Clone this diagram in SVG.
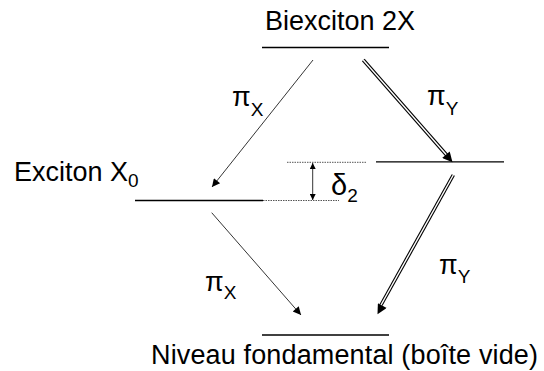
<svg xmlns="http://www.w3.org/2000/svg" width="544" height="371" viewBox="0 0 544 371">
<style>
text{font-family:"Liberation Sans",Arial,sans-serif;fill:#000}
.lbl{font-size:27px}
.sub{font-size:19px}
.lvl{stroke:#000;stroke-width:1.3;fill:none}
.dot{stroke:#555;stroke-width:1;stroke-dasharray:1.5 1;fill:none}
.thin{stroke:#000;stroke-width:0.8;fill:none}
.dblo{stroke:#000;stroke-width:3.6;fill:none}
.dbli{stroke:#fff;stroke-width:1.4;fill:none}
</style>
<defs>
<marker id="ah" viewBox="0 0 10 10" refX="10" refY="5" markerWidth="10" markerHeight="8" markerUnits="userSpaceOnUse" orient="auto">
<path d="M0,0 L10,5 L0,10 Z" fill="#000"/>
</marker>
<marker id="ahd" viewBox="0 0 10 10" refX="10" refY="5" markerWidth="12" markerHeight="10" markerUnits="userSpaceOnUse" orient="auto">
<path d="M0,0 L10,5 L0,10 Z" fill="#000"/>
</marker>
<marker id="sa" viewBox="0 0 10 10" refX="10" refY="5" markerWidth="7" markerHeight="6" markerUnits="userSpaceOnUse" orient="auto-start-reverse">
<path d="M0,0 L10,5 L0,10 Z" fill="#000"/>
</marker>
</defs>

<g id="biexciton">
<line class="lvl" x1="262" y1="47.5" x2="389" y2="47.5"/>
<text class="lbl" x="265" y="30">Biexciton 2X</text>
</g>

<g id="exciton-x">
<line class="lvl" x1="135" y1="200.5" x2="263" y2="200.5"/>
<text class="lbl" x="14" y="181">Exciton X<tspan class="sub" dy="6">0</tspan></text>
</g>

<g id="exciton-y">
<line class="lvl" x1="376" y1="161.8" x2="504" y2="161.8"/>
</g>

<g id="ground">
<line class="lvl" x1="262" y1="335" x2="389" y2="335"/>
<text class="lbl" x="151" y="364" textLength="387" lengthAdjust="spacing">Niveau fondamental (boîte vide)</text>
</g>

<g id="splitting">
<line class="dot" x1="263" y1="200.5" x2="339" y2="200.5"/>
<line class="dot" x1="287" y1="162.3" x2="366" y2="162.3"/>
<line class="thin" x1="312.7" y1="163" x2="312.7" y2="200" marker-start="url(#sa)" marker-end="url(#sa)"/>
<text class="lbl" x="331" y="195" style="font-size:29px">δ<tspan class="sub" dy="7">2</tspan></text>
</g>

<g id="connectors">
<line class="thin" x1="313" y1="60" x2="212" y2="187" marker-end="url(#ah)"/>
<line class="thin" x1="211.7" y1="212.7" x2="301" y2="315" marker-end="url(#ah)"/>
<line class="dblo" x1="363.3" y1="60" x2="447" y2="155.5"/>
<line class="dbli" x1="363.3" y1="60" x2="447" y2="155.5"/>
<line stroke="none" x1="363.3" y1="60" x2="452.5" y2="162.3" marker-end="url(#ahd)"/>
<line class="dblo" x1="453.3" y1="175" x2="381" y2="305"/>
<line class="dbli" x1="453.3" y1="175" x2="381" y2="305"/>
<line stroke="none" x1="453.3" y1="175" x2="377.5" y2="314.3" marker-end="url(#ahd)"/>
</g>

<g id="labels">
<text class="lbl" x="232" y="106">π<tspan class="sub" dy="10">X</tspan></text>
<text class="lbl" x="427" y="105">π<tspan class="sub" dy="10">Y</tspan></text>
<text class="lbl" x="439" y="274">π<tspan class="sub" dy="9">Y</tspan></text>
<text class="lbl" x="205" y="291">π<tspan class="sub" dy="8">X</tspan></text>
</g>
</svg>
